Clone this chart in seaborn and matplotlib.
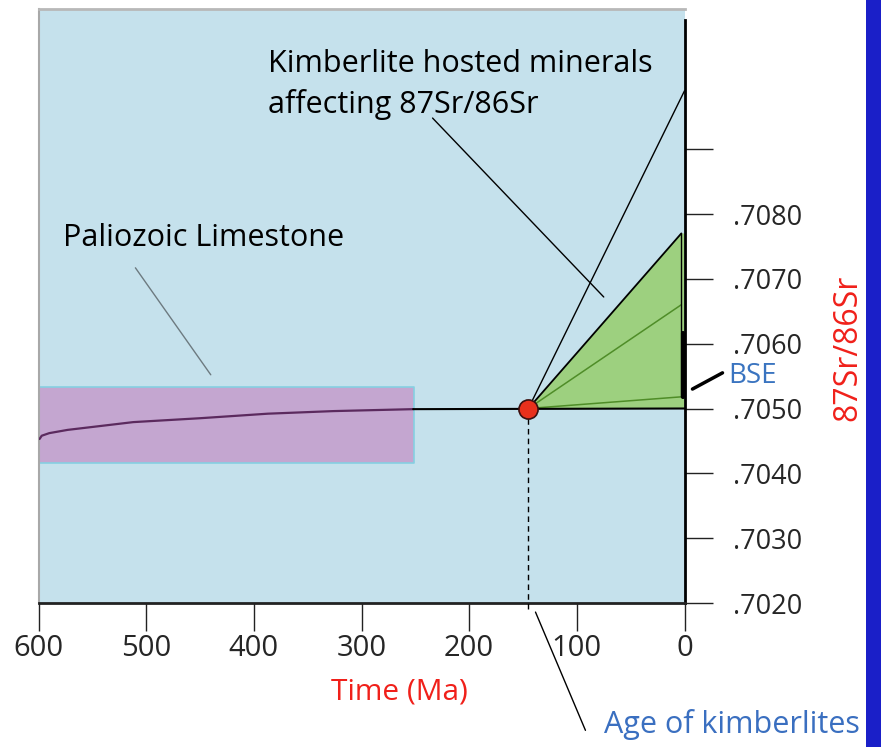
import numpy as np
import pandas as pd
import matplotlib
matplotlib.use("Agg")
import matplotlib.pyplot as plt
import seaborn as sns

# ---------------- data ----------------
# Paleozoic limestone evolution curve (Time Ma, 87Sr/86Sr)
lime_time = [599, 597, 590, 573, 512, 450, 387, 326, 252]
lime_sr = [0.70453, 0.70458, 0.70462, 0.70467, 0.70479, 0.70485, 0.70492, 0.70496, 0.70499]
lime_box_time = [600, 251]
lime_box_sr = [0.70416, 0.70533]

kimb_age = 145
kimb_sr = 0.7050

# green wedge (kimberlite hosted minerals)
wedge_time = [145, 3, 0]
wedge_top = [0.7050, 0.7077, 0.7077]
wedge_bottom = [0.7050, 0.7050, 0.7050]
wedge_rays_end = [0.7066, 0.70518]
bse_sr = [0.70518, 0.70616]
steep_ray_end = 0.7099

xticks = [600, 500, 400, 300, 200, 100, 0]
xtick_labels = ["600", "500", "400", "300", "200", "100", "0"]
yticks = [0.7020, 0.7030, 0.7040, 0.7050, 0.7060, 0.7070, 0.7080, 0.7090]
ytick_labels = [".7020", ".7030", ".7040", ".7050", ".7060", ".7070", ".7080", ""]

# ---------------- style ----------------
sns.set_theme(style="white")
plt.rcParams["font.family"] = ["Open Sans", "DejaVu Sans"]

W, H = 881, 747
fig = plt.figure(figsize=(W / 100, H / 100), dpi=100)
fig.patch.set_facecolor("white")
ax = fig.add_axes([38.5 / W, (H - 603) / H, (684.5 - 38.5) / W, (603 - 9) / H])
ax.set_facecolor("#c5e1ec")

ax.set_xlim(600, 0)
ax.set_ylim(0.7020, 0.711162)

# purple limestone box
ax.fill_between(lime_box_time, lime_box_sr[0], lime_box_sr[1],
                facecolor="#c4a6d0", edgecolor="#86d0e2", linewidth=1.2, zorder=2)

# green wedge
ax.fill_between(wedge_time, wedge_bottom, wedge_top, facecolor="#9dd07f",
                edgecolor="none", zorder=2)
ax.plot([kimb_age, wedge_time[1]], [kimb_sr, wedge_top[1]], color="black", lw=1.3, zorder=4)
for yend in wedge_rays_end:
    ax.plot([kimb_age, wedge_time[1]], [kimb_sr, yend], color="#4f8d28", lw=1.1, zorder=3)
ax.plot([wedge_time[1], wedge_time[1]], [wedge_top[1], wedge_rays_end[1]], color="black", lw=1.0, zorder=4)
ax.plot([1.2, 1.2], bse_sr, color="black", lw=3.0, zorder=4)

# steep ray
ax.plot([kimb_age, 0], [kimb_sr, steep_ray_end], color="black", lw=1.0, zorder=4)

# limestone curve + continuation line
df = pd.DataFrame({"time": lime_time, "sr": lime_sr})
sns.lineplot(data=df, x="time", y="sr", ax=ax, color="#5b2a5e", lw=1.6, sort=False, zorder=5)
ax.plot([lime_time[-1], 0], [lime_sr[-1], kimb_sr], color="black", lw=1.5, zorder=5)

# dashed vertical age line
ax.plot([kimb_age, kimb_age], [kimb_sr, 0.70186], color="black", lw=1.0,
        ls=(0, (4, 3)), clip_on=False, zorder=3)

# red kimberlite point
sns.scatterplot(x=[kimb_age], y=[kimb_sr], ax=ax, s=190, color="#e8301c",
                edgecolor="#3a1010", linewidth=1.2, zorder=6)

# leader lines
ax.plot([510, 440], [0.70717, 0.70552], color="#6d7a80", lw=1.0, zorder=4)
ax.plot([234, 75], [0.70948, 0.70672], color="black", lw=1.0, zorder=4)
ax.plot([-7.4, -35.3], [0.7053, 0.70555], color="black", lw=2.5, clip_on=False)
ax.plot([138.4, 92], [0.70186, 0.700036], color="black", lw=1.0, clip_on=False)

# texts in plot
ax.text(577.7, 0.70750, "Paliozoic Limestone", fontsize=22, color="black", va="baseline", ha="left")
ax.text(387.3, 0.71019, "Kimberlite hosted minerals", fontsize=22, color="black", va="baseline", ha="left")
ax.text(387.3, 0.70956, "affecting 87Sr/86Sr", fontsize=22, color="black", va="baseline", ha="left")

# axes styling
ax.set_xticks(xticks)
ax.set_xticklabels(xtick_labels, fontsize=21)
ax.set_yticks(yticks)
ax.set_yticklabels(ytick_labels, fontsize=19.5)
ax.yaxis.tick_right()
ax.tick_params(axis="x", direction="out", length=20, width=1.0, color="#222222", pad=2, bottom=True)
ax.tick_params(axis="y", direction="out", length=20, width=1.0, color="#222222", pad=15, right=True, left=False)
for lab in ax.get_yticklabels():
    lab.set_horizontalalignment("left")
ax.set_xlabel("")
ax.set_ylabel("")

ax.spines["left"].set_color("#a8a8a8")
ax.spines["left"].set_linewidth(1.5)
ax.spines["top"].set_color("#b8b8b8")
ax.spines["top"].set_linewidth(2)
ax.spines["bottom"].set_color("#222222")
ax.spines["bottom"].set_linewidth(2)
ax.spines["right"].set_color("black")
ax.spines["right"].set_linewidth(2)
ax.spines["right"].set_bounds(0.7020, 0.7110)

# outside labels
fig.text(399 / W, 1 - 692 / H, "Time (Ma)", color="#f0201a", fontsize=21.5, ha="center", va="center")
fig.text(604 / W, 1 - 725 / H, "Age of kimberlites", color="#3a6fc0", fontsize=22, ha="left", va="center")
fig.text(728 / W, 1 - 376 / H, "BSE", color="#3a74c0", fontsize=20, ha="left", va="center")
fig.text(848 / W, 1 - 348 / H, "87Sr/86Sr", color="#f0201a", fontsize=23, ha="center", va="center",
         rotation=90)

# blue side bar
fig.patches.append(plt.Rectangle((866 / W, 0), 15 / W, 1, transform=fig.transFigure,
                                 facecolor="#1a1fc8", edgecolor="none", zorder=0))

fig.savefig("out.png", dpi=100, facecolor="white")
